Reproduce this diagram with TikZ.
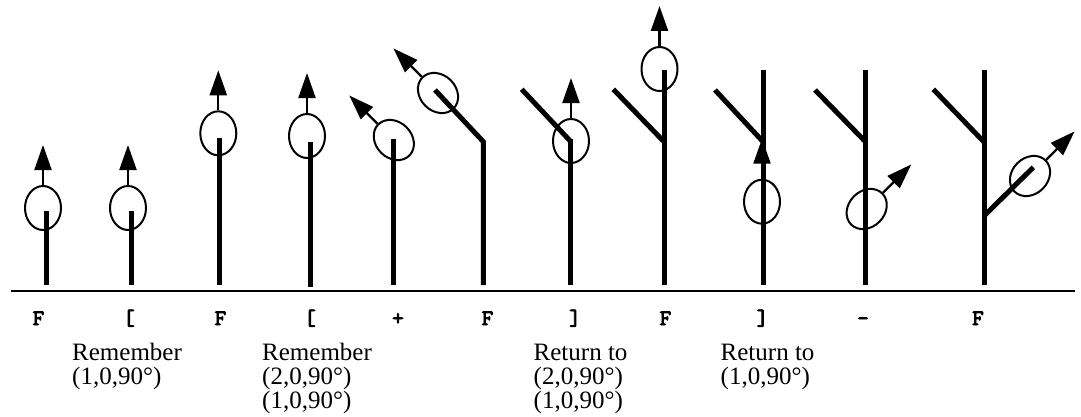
\documentclass[tikz,border=0pt]{standalone}
\usepackage{fontspec}
\setmainfont{Liberation Serif}
\newfontfamily\codefont[FakeBold=3.5]{lmmono10-regular.otf}
\usetikzlibrary{arrows.meta,shapes.geometric,calc}
\begin{document}
\begin{tikzpicture}[x=1pt,y=1pt,
  stem/.style={line width=5pt},
  axis/.style={line width=2.5pt},
  turtle/.style={draw, ellipse, line width=2pt, minimum width=36pt, minimum height=44pt, inner sep=0pt},
  head/.style={line width=2.2pt, -{Triangle[length=25pt,width=17pt]}},
  sym/.style={font=\codefont\fontsize{22}{22}\selectfont, anchor=base, inner sep=0pt},
  note/.style={font=\fontsize{25}{25}\selectfont, anchor=base west, inner sep=0pt}]
\useasboundingbox (0,0) rectangle (1081,416);
% ground line
\draw[axis] (11,125) -- (1075,125);
% stems
\draw[stem] (46.5,131) -- (46.5,205);
\draw[stem] (131.5,131) -- (131.5,205);
\draw[stem] (219.3,131) -- (219.3,277.7);
\draw[stem] (310,129) -- (310,274.3);
\draw[stem] (393,131) -- (393,277);
\draw[stem] (483.3,131) -- (483.3,274.3) -- (435,326);
\draw[stem] (570.7,131) -- (570.7,277);
\draw[stem] (570.7,274.5) -- (521.7,326.7);
\draw[stem] (664.3,131) -- (664.3,346);
\draw[stem] (664.3,274) -- (613.3,326.7);
\draw[stem] (763.3,131) -- (763.3,346);
\draw[stem] (763.3,274) -- (715,326);
\draw[stem] (865.7,131) -- (865.7,346);
\draw[stem] (865.7,274) -- (815,326);
\draw[stem] (984,131) -- (984,346);
\draw[stem] (984,274) -- (933.3,326.7);
\draw[stem] (984,200) -- (1033.3,248.7);
% turtles
\node[turtle] (e1) at (43,208) {};
\node[turtle] (e2) at (128,208) {};
\node[turtle] (e3) at (218.3,282.7) {};
\node[turtle] (e4) at (307,280) {};
\node[turtle, rotate=45] (e5) at (393.8,276) {};
\node[turtle, rotate=45] (e6) at (438,323) {};
\node[turtle] (e7) at (571,275) {};
\node[turtle] (e8) at (659.5,347) {};
\node[turtle] (e9) at (762,214.3) {};
\node[turtle, rotate=-45] (e10) at (866.7,207) {};
\node[turtle, rotate=-45] (e11) at (1030,240) {};
% headings
\coordinate (h1) at ($(e1.north)+(90:40)$);
\coordinate (h2) at ($(e2.north)+(90:40)$);
\coordinate (h3) at ($(e3.north)+(90:40)$);
\coordinate (h4) at ($(e4.north)+(90:40)$);
\coordinate (h5) at ($(e5.north)+(135:40)$);
\coordinate (h6) at ($(e6.north)+(135:40)$);
\coordinate (h7) at ($(e7.north)+(90:40)$);
\coordinate (h8) at ($(e8.north)+(90:40)$);
\coordinate (h9) at ($(e9.north)+(90:40)$);
\coordinate (h10) at ($(e10.north)+(45:40)$);
\coordinate (h11) at ($(e11.north)+(45:40)$);
\foreach \i in {1,...,11} {\draw[head] (e\i.north) -- (h\i);}
% symbols
\node[sym] (s1) at (38.5,91) {F};
\node[sym] (s2) at (129,91) {[};
\node[sym] (s3) at (220.5,91) {F};
\node[sym] (s4) at (310,91) {[};
\node[sym] (s5) at (398,91) {+};
\node[sym] (s6) at (487.5,91) {F};
\node[sym] (s7) at (575,91) {]};
\node[sym] (s8) at (665.5,91) {F};
\node[sym] (s9) at (762.5,91) {]};
\node[sym] (s10) at (863,91) {-};
\node[sym] (s11) at (978,91) {F};
% notes
\node[note] (n1a) at (72,56) {Remember};
\node[note] (n1b) at (72,32) {(1,0,90°)};
\node[note] (n2a) at (262,56) {Remember};
\node[note] (n2b) at (262,32) {(2,0,90°)};
\node[note] (n2c) at (262,8) {(1,0,90°)};
\node[note] (n3a) at (533.5,56) {Return to};
\node[note] (n3b) at (533.5,32) {(2,0,90°)};
\node[note] (n3c) at (533.5,8) {(1,0,90°)};
\node[note] (n4a) at (720.5,56) {Return to};
\node[note] (n4b) at (720.5,32) {(1,0,90°)};
\end{tikzpicture}
\end{document}
